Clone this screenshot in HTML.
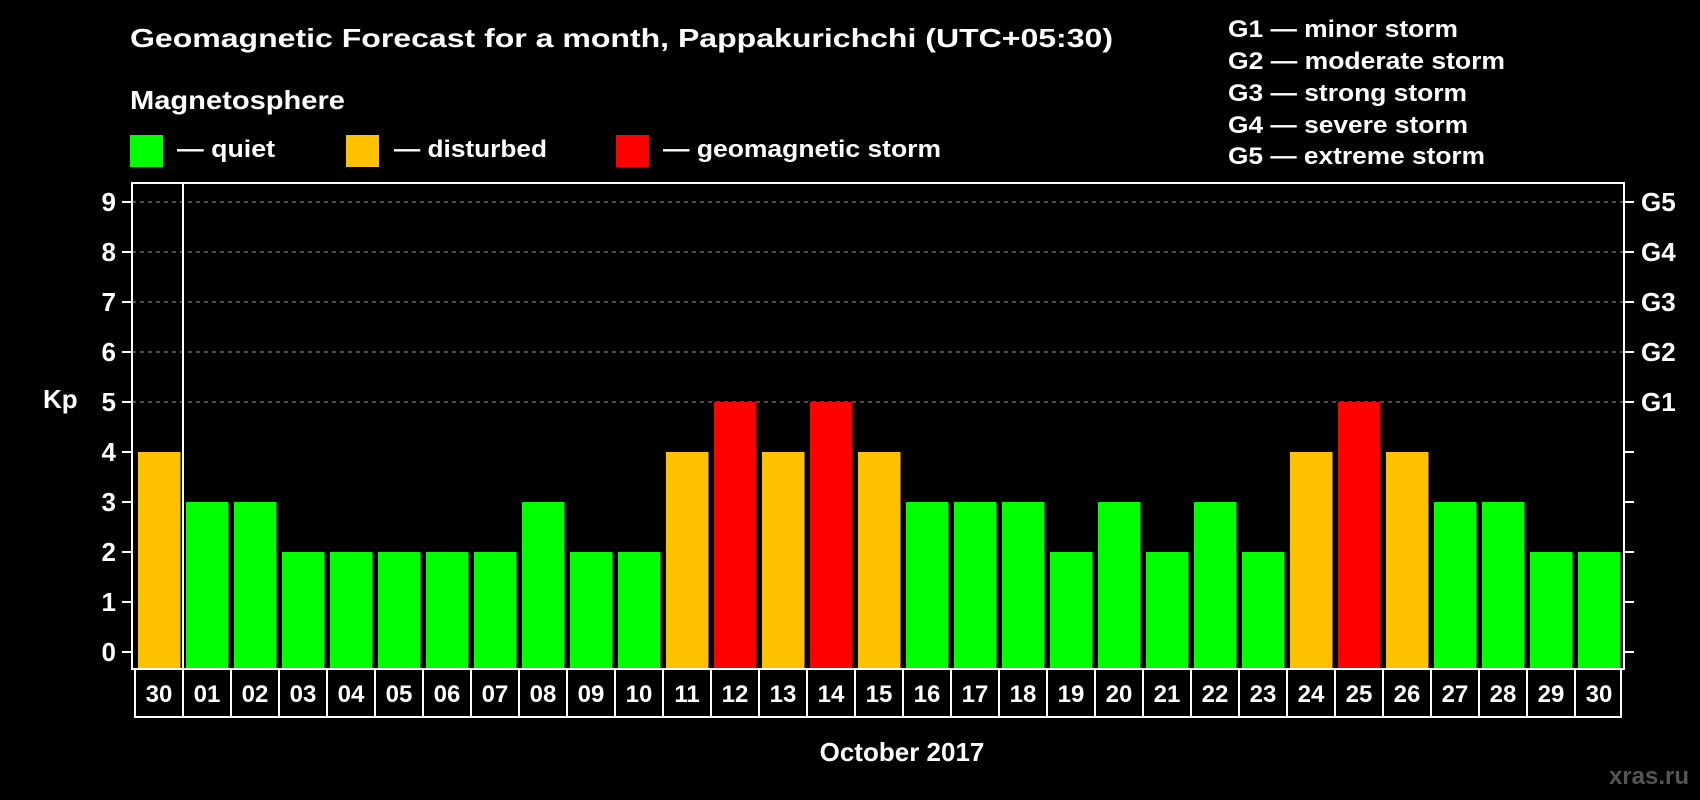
<!DOCTYPE html>
<html><head><meta charset="utf-8"><style>
html,body{margin:0;padding:0;background:#000;width:1700px;height:800px;overflow:hidden}
svg{display:block;font-family:"Liberation Sans",Arial,sans-serif;font-weight:bold}
</style></head><body>
<svg id="chart" width="1700" height="800" viewBox="0 0 1700 800">
<text x="130" y="47" font-size="26" fill="#fff" textLength="983" lengthAdjust="spacingAndGlyphs">Geomagnetic Forecast for a month, Pappakurichchi (UTC+05:30)</text>
<text x="130" y="109" font-size="26" fill="#fff" textLength="215" lengthAdjust="spacingAndGlyphs">Magnetosphere</text>
<rect x="130" y="135" width="33" height="32" fill="#00ff00"/>
<text x="177" y="157" font-size="24" fill="#fff" textLength="98" lengthAdjust="spacingAndGlyphs">— quiet</text>
<rect x="346" y="135" width="33" height="32" fill="#ffc000"/>
<text x="394" y="157" font-size="24" fill="#fff" textLength="153" lengthAdjust="spacingAndGlyphs">— disturbed</text>
<rect x="616" y="135" width="33" height="32" fill="#ff0000"/>
<text x="663" y="157" font-size="24" fill="#fff" textLength="278" lengthAdjust="spacingAndGlyphs">— geomagnetic storm</text>
<g font-size="24" fill="#fff">
<text x="1228" y="37" textLength="230" lengthAdjust="spacingAndGlyphs">G1 — minor storm</text>
<text x="1228" y="69" textLength="277" lengthAdjust="spacingAndGlyphs">G2 — moderate storm</text>
<text x="1228" y="101" textLength="239" lengthAdjust="spacingAndGlyphs">G3 — strong storm</text>
<text x="1228" y="133" textLength="240" lengthAdjust="spacingAndGlyphs">G4 — severe storm</text>
<text x="1228" y="164" textLength="257" lengthAdjust="spacingAndGlyphs">G5 — extreme storm</text>
</g>
<text x="43" y="408" font-size="26" fill="#fff">Kp</text>
<text x="902" y="761" font-size="26" fill="#fff" text-anchor="middle">October 2017</text>
<text x="1689" y="784" font-size="24" fill="#555" text-anchor="end">xras.ru</text>
<g id="plot"></g>
</svg>
<script>
const days = ["30","01","02","03","04","05","06","07","08","09","10","11","12","13","14","15","16","17","18","19","20","21","22","23","24","25","26","27","28","29","30"];
const kpValues = [4,3,3,2,2,2,2,2,3,2,2,4,5,4,5,4,3,3,3,2,3,2,3,2,4,5,4,3,3,2,2];
const yTicks = [0,1,2,3,4,5,6,7,8,9];
const gLabels = ["G1","G2","G3","G4","G5"];
const gLevels = [5,6,7,8,9];

const NS = "http://www.w3.org/2000/svg";
const plot = document.getElementById("plot");
const L = 132, R = 1624, T = 183, B = 669;
const slot = 48, firstCenter = 159;
function y(v){ return 652 - v * 50; }
function xc(i){ return firstCenter + i * slot; }
function mk(tag, attrs){ const e = document.createElementNS(NS, tag); for (const k in attrs) e.setAttribute(k, attrs[k]); plot.appendChild(e); return e; }
function color(v){ return v >= 5 ? "#ff0000" : (v >= 4 ? "#ffc000" : "#00ff00"); }

// grid
gLevels.forEach((g) => {
  const ln = mk("line", {x1: L, x2: R, y1: y(g), y2: y(g), stroke: "#999", "stroke-width": 1, "stroke-dasharray": "4 4"});
  
  
});
// bars
kpValues.forEach((v, i) => {
  const r = mk("rect", {x: xc(i) - 21, y: y(v), width: 42.5, height: B - y(v) - 1, fill: color(v)});
  
  
});
// frame
const fr = mk("rect", {x: L, y: T, width: R - L, height: B - T, fill: "none", stroke: "#fff", "stroke-width": 2});


const sep = mk("line", {x1: xc(0) + 24, x2: xc(0) + 24, y1: T, y2: B, stroke: "#fff", "stroke-width": 2});


// y ticks
yTicks.forEach((t) => {
  const a = mk("line", {x1: L - 10, x2: L, y1: y(t), y2: y(t), stroke: "#fff", "stroke-width": 2});
  
  
  const b = mk("line", {x1: R, x2: R + 10, y1: y(t), y2: y(t), stroke: "#fff", "stroke-width": 2});
  
  
  const tx = mk("text", {x: 116, y: y(t) + 9, "font-size": 26, fill: "#fff", "text-anchor": "end"});
  tx.textContent = t;
  
  
});
gLabels.forEach((g, i) => {
  const tx = mk("text", {x: 1641, y: y(gLevels[i]) + 9, "font-size": 26, fill: "#fff"});
  tx.textContent = g;
  
  
});
// date label box
const lb = mk("rect", {x: xc(0) - 24, y: B, width: xc(days.length - 1) + 22 - (xc(0) - 24), height: 48, fill: "none", stroke: "#fff", "stroke-width": 2});


days.forEach((d, i) => {
  if (i > 0) {
    const s = mk("line", {x1: xc(i) - 24, x2: xc(i) - 24, y1: B, y2: B + 48, stroke: "#fff", "stroke-width": 2});
    
    
  }
  const tx = mk("text", {x: xc(i), y: B + 33, "font-size": 24, fill: "#fff", "text-anchor": "middle"});
  tx.textContent = d;
  
  
});
</script>
</body></html>
